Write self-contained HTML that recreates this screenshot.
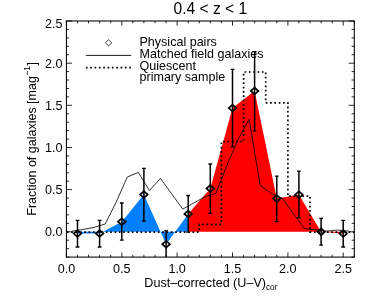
<!DOCTYPE html><html><head><meta charset="utf-8"><style>html,body{margin:0;padding:0;background:#fff}svg{display:block}text{font-family:"Liberation Sans",sans-serif;fill:#000}svg{will-change:transform}</style></head><body>
<svg width="374" height="299" viewBox="0 0 374 299">
<rect width="374" height="299" fill="#fff"/>
<polygon fill="#0080ff" points="77.5,231.8 77.5,233.6 99.6,233.6 121.8,221.7 143.9,194.6 166.1,244.2 188.2,213.9 188.2,231.8"/>
<polygon fill="#ff0000" points="188.2,231.8 188.2,213.9 210.3,188.5 232.5,108.1 254.6,91.0 276.8,198.5 298.9,194.8 321.1,231.7 343.2,233.6 343.2,231.8"/>
<path d="M66.9 232.1H199.3V224.4H221.4V141.5H243.6V72.0H265.7V102.8H287.9V196.2H310.0V232.1H354.3" stroke="#000" stroke-width="1.7" stroke-dasharray="1.7 2.63" fill="none"/>
<path d="M71.9 231.2 L83.0 229.4 L94.1 227.4 L105.2 224.0 L116.2 202.1 L127.3 177.0 L138.4 172.4 L149.4 190.5 L160.5 178.4 L171.6 193.8 L182.7 209.1 L193.7 203.0 L204.8 196.9 L215.9 193.4 L227.0 165.0 L238.0 139.6 L249.1 119.3 L260.2 185.3 L271.3 193.7 L282.3 198.2 L293.4 213.5 L304.5 228.7 L315.5 229.7 L326.6 231.1 L337.7 230.1 L348.8 231.1" stroke="#000" stroke-width="0.8" fill="none" stroke-linejoin="miter"/>
<path d="M77.5 220.3V247.0" stroke="#000" stroke-width="1.5" fill="none"/><path d="M75.6 220.3h3.8M75.6 247.0h3.8" stroke="#000" stroke-width="1.3" fill="none"/>
<path d="M99.6 220.3V247.0" stroke="#000" stroke-width="1.5" fill="none"/><path d="M97.7 220.3h3.8M97.7 247.0h3.8" stroke="#000" stroke-width="1.3" fill="none"/>
<path d="M121.8 203.0V240.1" stroke="#000" stroke-width="1.5" fill="none"/><path d="M119.9 203.0h3.8M119.9 240.1h3.8" stroke="#000" stroke-width="1.3" fill="none"/>
<path d="M143.9 168.4V221.2" stroke="#000" stroke-width="1.5" fill="none"/><path d="M142.0 168.4h3.8M142.0 221.2h3.8" stroke="#000" stroke-width="1.3" fill="none"/>
<path d="M166.1 230.8V257.1" stroke="#000" stroke-width="1.5" fill="none"/><path d="M164.2 230.8h3.8" stroke="#000" stroke-width="1.3" fill="none"/>
<path d="M188.2 195.5V232.1" stroke="#000" stroke-width="1.5" fill="none"/><path d="M186.3 195.5h3.8M186.3 232.1h3.8" stroke="#000" stroke-width="1.3" fill="none"/>
<path d="M210.3 164.0V213.3" stroke="#000" stroke-width="1.5" fill="none"/><path d="M208.4 164.0h3.8M208.4 213.3h3.8" stroke="#000" stroke-width="1.3" fill="none"/>
<path d="M232.5 69.3V146.9" stroke="#000" stroke-width="1.5" fill="none"/><path d="M230.6 69.3h3.8M230.6 146.9h3.8" stroke="#000" stroke-width="1.3" fill="none"/>
<path d="M254.6 51.6V130.8" stroke="#000" stroke-width="1.5" fill="none"/><path d="M252.7 51.6h3.8M252.7 130.8h3.8" stroke="#000" stroke-width="1.3" fill="none"/>
<path d="M276.8 176.1V221.6" stroke="#000" stroke-width="1.5" fill="none"/><path d="M274.9 176.1h3.8M274.9 221.6h3.8" stroke="#000" stroke-width="1.3" fill="none"/>
<path d="M298.9 171.1V217.8" stroke="#000" stroke-width="1.5" fill="none"/><path d="M297.0 171.1h3.8M297.0 217.8h3.8" stroke="#000" stroke-width="1.3" fill="none"/>
<path d="M321.1 218.4V245.1" stroke="#000" stroke-width="1.5" fill="none"/><path d="M319.2 218.4h3.8M319.2 245.1h3.8" stroke="#000" stroke-width="1.3" fill="none"/>
<path d="M343.2 220.4V247.0" stroke="#000" stroke-width="1.5" fill="none"/><path d="M341.3 220.4h3.8M341.3 247.0h3.8" stroke="#000" stroke-width="1.3" fill="none"/>
<path d="M73.7 233.6l3.8 -3.35l3.8 3.35l-3.8 3.35z" stroke="#000" stroke-width="1.7" fill="none"/>
<path d="M95.8 233.6l3.8 -3.35l3.8 3.35l-3.8 3.35z" stroke="#000" stroke-width="1.7" fill="none"/>
<path d="M118.0 221.7l3.8 -3.35l3.8 3.35l-3.8 3.35z" stroke="#000" stroke-width="1.7" fill="none"/>
<path d="M140.1 194.6l3.8 -3.35l3.8 3.35l-3.8 3.35z" stroke="#000" stroke-width="1.7" fill="none"/>
<path d="M162.3 244.2l3.8 -3.35l3.8 3.35l-3.8 3.35z" stroke="#000" stroke-width="1.7" fill="none"/>
<path d="M184.4 213.9l3.8 -3.35l3.8 3.35l-3.8 3.35z" stroke="#000" stroke-width="1.7" fill="none"/>
<path d="M206.5 188.5l3.8 -3.35l3.8 3.35l-3.8 3.35z" stroke="#000" stroke-width="1.7" fill="none"/>
<path d="M228.7 108.1l3.8 -3.35l3.8 3.35l-3.8 3.35z" stroke="#000" stroke-width="1.7" fill="none"/>
<path d="M250.8 91.0l3.8 -3.35l3.8 3.35l-3.8 3.35z" stroke="#000" stroke-width="1.7" fill="none"/>
<path d="M273.0 198.5l3.8 -3.35l3.8 3.35l-3.8 3.35z" stroke="#000" stroke-width="1.7" fill="none"/>
<path d="M295.1 194.8l3.8 -3.35l3.8 3.35l-3.8 3.35z" stroke="#000" stroke-width="1.7" fill="none"/>
<path d="M317.3 231.7l3.8 -3.35l3.8 3.35l-3.8 3.35z" stroke="#000" stroke-width="1.7" fill="none"/>
<path d="M339.4 233.6l3.8 -3.35l3.8 3.35l-3.8 3.35z" stroke="#000" stroke-width="1.7" fill="none"/>
<rect x="66.4" y="21.0" width="287.9" height="236.1" fill="none" stroke="#000" stroke-width="1.05"/>
<path d="M66.4 257.1v-4.60M66.4 21.0v4.60M77.5 257.1v-2.30M77.5 21.0v2.30M88.5 257.1v-2.30M88.5 21.0v2.30M99.6 257.1v-2.30M99.6 21.0v2.30M110.7 257.1v-2.30M110.7 21.0v2.30M121.8 257.1v-4.60M121.8 21.0v4.60M132.8 257.1v-2.30M132.8 21.0v2.30M143.9 257.1v-2.30M143.9 21.0v2.30M155.0 257.1v-2.30M155.0 21.0v2.30M166.1 257.1v-2.30M166.1 21.0v2.30M177.1 257.1v-4.60M177.1 21.0v4.60M188.2 257.1v-2.30M188.2 21.0v2.30M199.3 257.1v-2.30M199.3 21.0v2.30M210.3 257.1v-2.30M210.3 21.0v2.30M221.4 257.1v-2.30M221.4 21.0v2.30M232.5 257.1v-4.60M232.5 21.0v4.60M243.6 257.1v-2.30M243.6 21.0v2.30M254.6 257.1v-2.30M254.6 21.0v2.30M265.7 257.1v-2.30M265.7 21.0v2.30M276.8 257.1v-2.30M276.8 21.0v2.30M287.9 257.1v-4.60M287.9 21.0v4.60M298.9 257.1v-2.30M298.9 21.0v2.30M310.0 257.1v-2.30M310.0 21.0v2.30M321.1 257.1v-2.30M321.1 21.0v2.30M332.2 257.1v-2.30M332.2 21.0v2.30M343.2 257.1v-4.60M343.2 21.0v4.60M354.3 257.1v-2.30M354.3 21.0v2.30M66.4 257.1h2.70M354.3 257.1h-2.70M66.4 248.7h2.70M354.3 248.7h-2.70M66.4 240.2h2.70M354.3 240.2h-2.70M66.4 231.8h5.60M354.3 231.8h-5.60M66.4 223.4h2.70M354.3 223.4h-2.70M66.4 214.9h2.70M354.3 214.9h-2.70M66.4 206.5h2.70M354.3 206.5h-2.70M66.4 198.1h2.70M354.3 198.1h-2.70M66.4 189.6h5.60M354.3 189.6h-5.60M66.4 181.2h2.70M354.3 181.2h-2.70M66.4 172.8h2.70M354.3 172.8h-2.70M66.4 164.3h2.70M354.3 164.3h-2.70M66.4 155.9h2.70M354.3 155.9h-2.70M66.4 147.5h5.60M354.3 147.5h-5.60M66.4 139.1h2.70M354.3 139.1h-2.70M66.4 130.6h2.70M354.3 130.6h-2.70M66.4 122.2h2.70M354.3 122.2h-2.70M66.4 113.8h2.70M354.3 113.8h-2.70M66.4 105.3h5.60M354.3 105.3h-5.60M66.4 96.9h2.70M354.3 96.9h-2.70M66.4 88.5h2.70M354.3 88.5h-2.70M66.4 80.0h2.70M354.3 80.0h-2.70M66.4 71.6h2.70M354.3 71.6h-2.70M66.4 63.2h5.60M354.3 63.2h-5.60M66.4 54.7h2.70M354.3 54.7h-2.70M66.4 46.3h2.70M354.3 46.3h-2.70M66.4 37.9h2.70M354.3 37.9h-2.70M66.4 29.4h2.70M354.3 29.4h-2.70M66.4 21.0h5.60M354.3 21.0h-5.60" stroke="#000" stroke-width="0.85" fill="none"/>
<text transform="translate(66.40,272.70) scale(1,1.070)" font-size="12.6" text-anchor="middle">0.0</text>
<text transform="translate(62.60,236.40) scale(1,1.070)" font-size="12.6" text-anchor="end">0.0</text>
<text transform="translate(121.77,272.70) scale(1,1.070)" font-size="12.6" text-anchor="middle">0.5</text>
<text transform="translate(62.60,194.24) scale(1,1.070)" font-size="12.6" text-anchor="end">0.5</text>
<text transform="translate(177.13,272.70) scale(1,1.070)" font-size="12.6" text-anchor="middle">1.0</text>
<text transform="translate(62.60,152.08) scale(1,1.070)" font-size="12.6" text-anchor="end">1.0</text>
<text transform="translate(232.50,272.70) scale(1,1.070)" font-size="12.6" text-anchor="middle">1.5</text>
<text transform="translate(62.60,109.92) scale(1,1.070)" font-size="12.6" text-anchor="end">1.5</text>
<text transform="translate(287.86,272.70) scale(1,1.070)" font-size="12.6" text-anchor="middle">2.0</text>
<text transform="translate(62.60,67.76) scale(1,1.070)" font-size="12.6" text-anchor="end">2.0</text>
<text transform="translate(343.23,272.70) scale(1,1.070)" font-size="12.6" text-anchor="middle">2.5</text>
<text transform="translate(62.60,28.20) scale(1,1.070)" font-size="12.6" text-anchor="end">2.5</text>
<text transform="translate(173.50,14.40) scale(1,1.070)" font-size="15.6">0.4 &lt; z &lt; 1</text>
<text transform="translate(144.30,286.50) scale(1,1.070)" font-size="12.6">Dust–corrected (U–V)<tspan font-size="8.2" dy="3.1">cor</tspan></text>
<text transform="translate(35.60,215.70) rotate(-90) scale(1,1.070)" font-size="12.5">Fraction of galaxies [mag<tspan font-size="8.2" dy="-4.8" dx="0.6">−1</tspan><tspan dy="4.8" dx="0.6">]</tspan></text>
<path d="M105.3 42.8l3.3 -3l3.3 3l-3.3 3z" stroke="#000" stroke-width="0.7" fill="none"/>
<path d="M85.9 55.4H131.2" stroke="#000" stroke-width="0.9" fill="none"/>
<path d="M85.9 67.6H131.2" stroke="#000" stroke-width="1.7" stroke-dasharray="1.7 2.63" fill="none"/>
<text transform="translate(139.50,46.00) scale(1,1.070)" font-size="12.55">Physical pairs</text>
<text transform="translate(139.50,58.40) scale(1,1.070)" font-size="12.55">Matched field galaxies</text>
<text transform="translate(139.50,70.10) scale(1,1.070)" font-size="12.55">Quiescent</text>
<text transform="translate(139.50,80.80) scale(1,1.070)" font-size="12.55">primary sample</text>
</svg></body></html>
